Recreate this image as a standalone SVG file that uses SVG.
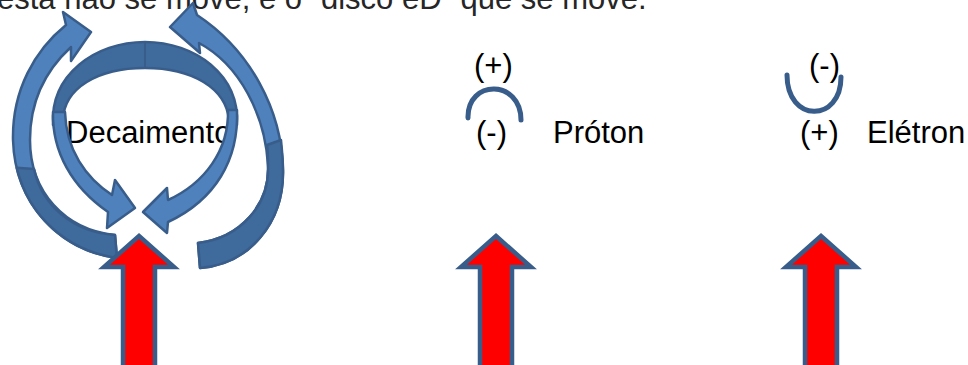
<svg xmlns="http://www.w3.org/2000/svg" width="968" height="365" viewBox="0 0 968 365">
<style>
.t{font-family:"Liberation Sans",Arial,sans-serif;font-size:31px;fill:#000}
.top{fill:#262626}
.lt{fill:#4F81BD;stroke:#385D8A;stroke-width:2.5;stroke-linejoin:round}
.dk{fill:#3F6A9C;stroke:#385D8A;stroke-width:2.5;stroke-linejoin:round}
.seam{fill:none;stroke:#385D8A;stroke-width:2}
.arc{fill:none;stroke:#385D8A;stroke-width:5;stroke-linecap:round}
.red{fill:#FF0000;stroke:#385D8A;stroke-width:4.5}
</style>
<defs>
<path id="up" d="M0,236 L35,267 L16,267 L16,372 L-16,372 L-16,267 L-35,267 Z"/>
</defs>
<rect width="968" height="365" fill="#fff"/>
<text class="t top" x="-3" y="8.5">esta não se move, é o “disco eD” que se move.</text>

<g id="decaimento">
  <text class="t" x="66" y="143">Decaimento</text>
  <!-- left outer curved arrow -->
  <path class="lt" d="M117,258 C60,250 15,205 13,140 C12,90 35,50 66,25 L63,12 L91,32 L71,61 L71,47 C46,70 30,100 30,140 C30,192 65,230 115,235 Z"/>
  <path class="dk" d="M117,258 C68.5,251 28.7,217.6 16.7,167.8 L34,169 C42,205 72,232 115,235 Z"/>
  <!-- right outer curved arrow -->
  <path class="lt" d="M200,268 C250,264 284,222 283,170 C282,110 250,50 197,15 L193,3 L170,27 L200,53 L199,43 C240,65 265,115 268,165 C270,205 240,238 198,243 Z"/>
  <path class="dk" d="M200,268 C250,264 284,222 283,170 C283,160 282,150 281,140 L267,145 C268,152 268,158 268,165 C270,205 240,238 198,243 Z"/>
  <!-- inner ring back -->
  <path class="dk" d="M53,125 C50,75 95,42 145,42 C195,42 240,75 237,125 L229,120 C226,88 192,68 145,68 C98,68 64,88 63,120 Z"/>
  <path class="seam" d="M145,42 L145,68"/>
  <!-- inner left arrow -->
  <path class="lt" d="M53,112 C52,152 72,187 108,212 L107,228 L135,208 L115,180 L112,195 C86,178 66,150 65,112 Z"/>
  <!-- inner right arrow -->
  <path class="lt" d="M237,110 C239,160 215,200 168,222 L167,233 L143,212 L167,188 L168,200 C205,183 229,150 228,110 Z"/>
</g>

<g id="proton">
  <text class="t" x="474" y="76">(+)</text>
  <path class="arc" d="M468,118 C467,79 521,79 521,120"/>
  <text class="t" x="476" y="143">(-)</text>
  <text class="t" x="553" y="143">Próton</text>
</g>

<g id="eletron">
  <text class="t" x="809" y="76">(-)</text>
  <path class="arc" d="M787,75 C787,123 841,123 841,77"/>
  <text class="t" x="800" y="143">(+)</text>
  <text class="t" x="867" y="143">Elétron</text>
</g>

<g id="connectors">
  <use href="#up" x="139" class="red"/>
  <use href="#up" x="496" class="red"/>
  <use href="#up" x="821" class="red"/>
</g>
</svg>
